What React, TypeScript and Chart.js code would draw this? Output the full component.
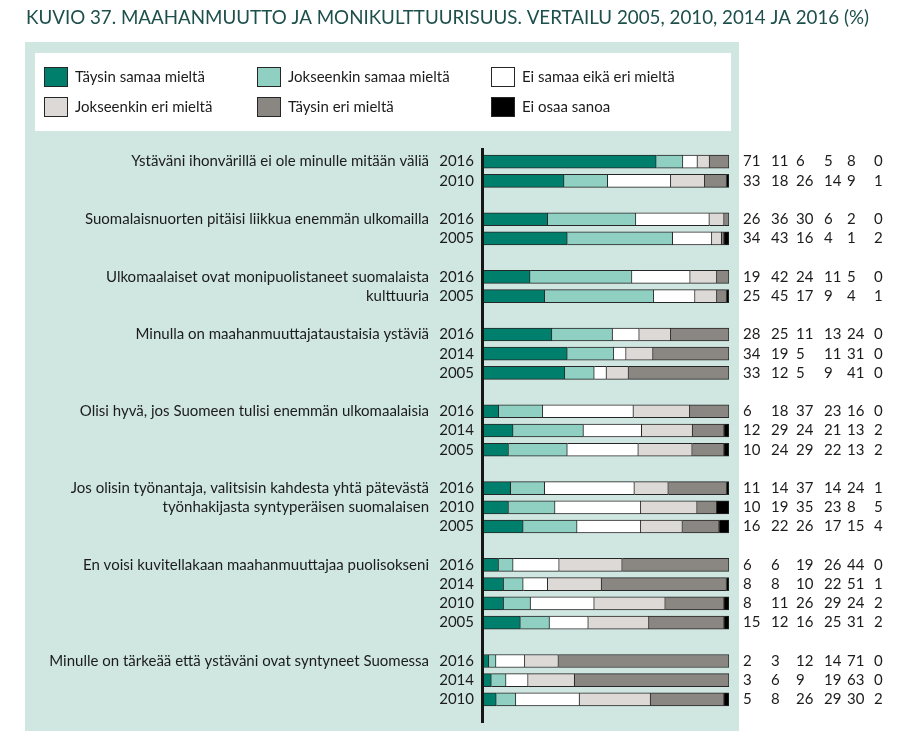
import React, { useEffect, useRef } from "react";
import { Chart, registerables } from "chart.js";

Chart.register(...registerables);

const TITLE = "KUVIO 37. MAAHANMUUTTO JA MONIKULTTUURISUUS. VERTAILU 2005, 2010, 2014 JA 2016 (%)";

const statements: string[][] = [
  ["Ystäväni ihonvärillä ei ole minulle mitään väliä"],
  ["Suomalaisnuorten pitäisi liikkua enemmän ulkomailla"],
  ["Ulkomaalaiset ovat monipuolistaneet suomalaista", "kulttuuria"],
  ["Minulla on maahanmuuttajataustaisia ystäviä"],
  ["Olisi hyvä, jos Suomeen tulisi enemmän ulkomaalaisia"],
  ["Jos olisin työnantaja, valitsisin kahdesta yhtä pätevästä", "työnhakijasta syntyperäisen suomalaisen"],
  ["En voisi kuvitellakaan maahanmuuttajaa puolisokseni"],
  ["Minulle on tärkeää että ystäväni ovat syntyneet Suomessa"],
];

const groupYears: string[][] = [
  ["2016", "2010"],
  ["2016", "2005"],
  ["2016", "2005"],
  ["2016", "2014", "2005"],
  ["2016", "2014", "2005"],
  ["2016", "2010", "2005"],
  ["2016", "2014", "2010", "2005"],
  ["2016", "2014", "2010"],
];

const seriesLabels = [
  "Täysin samaa mieltä",
  "Jokseenkin samaa mieltä",
  "Ei samaa eikä eri mieltä",
  "Jokseenkin eri mieltä",
  "Täysin eri mieltä",
  "Ei osaa sanoa",
];

const seriesColors = ["#007f6d", "#8fd0c2", "#ffffff", "#dcd9d6", "#8a8782", "#000000"];

const taysinSamaa = [71, 33, 26, 34, 19, 25, 28, 34, 33, 6, 12, 10, 11, 10, 16, 6, 8, 8, 15, 2, 3, 5];
const jokseenkinSamaa = [11, 18, 36, 43, 42, 45, 25, 19, 12, 18, 29, 24, 14, 19, 22, 6, 8, 11, 12, 3, 6, 8];
const eiSamaaEikaEri = [6, 26, 30, 16, 24, 17, 11, 5, 5, 37, 24, 29, 37, 35, 26, 19, 10, 26, 16, 12, 9, 26];
const jokseenkinEri = [5, 14, 6, 4, 11, 9, 13, 11, 9, 23, 21, 22, 14, 23, 17, 26, 22, 29, 25, 14, 19, 29];
const taysinEri = [8, 9, 2, 1, 5, 4, 24, 31, 41, 16, 13, 13, 24, 8, 15, 44, 51, 24, 31, 71, 63, 30];
const eiOsaa = [0, 1, 0, 2, 0, 1, 0, 0, 0, 0, 2, 2, 1, 5, 4, 0, 1, 2, 2, 0, 0, 2];

const seriesValues = [taysinSamaa, jokseenkinSamaa, eiSamaaEikaEri, jokseenkinEri, taysinEri, eiOsaa];

const FONT = "Lato, 'Noto Sans', sans-serif";
const TEXT = "#1c1c1c";
const PANEL = "#cfe6e1";
const BORDER = "#262626";

export default function App() {
  const ref = useRef<HTMLCanvasElement | null>(null);

  useEffect(() => {
    const canvas = ref.current;
    if (!canvas) return;

    const slotLabels: string[] = [];
    const slotRow: (number | null)[] = [];
    const groupFirstSlot: number[] = [];
    let r = 0;
    groupYears.forEach((ys, g) => {
      if (g > 0) {
        slotLabels.push("");
        slotRow.push(null);
      }
      groupFirstSlot.push(slotLabels.length);
      ys.forEach((y) => {
        slotLabels.push(y);
        slotRow.push(r++);
      });
    });
    const rowTotals = taysinSamaa.map((_, i) => seriesValues.reduce((s, arr) => s + arr[i], 0));

    const datasets = seriesValues.map((vals, k) => ({
      label: seriesLabels[k],
      data: slotRow.map((i) => (i === null ? null : (vals[i] / rowTotals[i]) * 100)),
      backgroundColor: seriesColors[k],
      borderColor: BORDER,
      borderWidth: 1,
      borderSkipped: "start" as const,
      barThickness: 13,
    }));

    const decor = {
      id: "decor",
      beforeDraw(chart: any) {
        const ctx = chart.ctx as CanvasRenderingContext2D;
        ctx.save();
        ctx.fillStyle = "#ffffff";
        ctx.fillRect(0, 0, chart.width, chart.height);
        // title
        ctx.fillStyle = "#1d4f4b";
        ctx.font = `19px ${FONT}`;
        ctx.textBaseline = "alphabetic";
        ctx.textAlign = "left";
        const w = ctx.measureText(TITLE).width;
        const target = 843;
        ctx.save();
        ctx.translate(26, 24);
        ctx.scale(target / w, 1);
        ctx.fillText(TITLE, 0, 0);
        ctx.restore();
        // panel
        ctx.fillStyle = PANEL;
        ctx.fillRect(25, 42, 714, 689);
        // legend box
        ctx.fillStyle = "#ffffff";
        ctx.fillRect(35, 53, 696, 78);
        const cols = [44, 257, 491];
        const rows = [67, 97];
        ctx.font = `15px ${FONT}`;
        ctx.textBaseline = "middle";
        chart.data.datasets.forEach((ds: any, k: number) => {
          const x = cols[k % 3];
          const y = rows[Math.floor(k / 3)];
          ctx.fillStyle = ds.backgroundColor;
          ctx.fillRect(x, y, 24, 20);
          ctx.strokeStyle = BORDER;
          ctx.lineWidth = 1;
          ctx.strokeRect(x + 0.5, y + 0.5, 23, 19);
          ctx.fillStyle = TEXT;
          ctx.fillText(ds.label, x + 31, y + 10);
        });
        ctx.restore();
      },
      beforeDatasetsDraw(chart: any) {
        const ctx = chart.ctx as CanvasRenderingContext2D;
        const a = chart.chartArea;
        ctx.save();
        ctx.fillStyle = "#161616";
        ctx.fillRect(a.left - 3, a.top - 4, 3, a.bottom - a.top + 18);
        ctx.restore();
      },
      afterDraw(chart: any) {
        const ctx = chart.ctx as CanvasRenderingContext2D;
        const yScale = chart.scales.y;
        ctx.save();
        ctx.font = `15px ${FONT}`;
        ctx.fillStyle = TEXT;
        ctx.textBaseline = "middle";
        ctx.textAlign = "right";
        statements.forEach((lines, g) => {
          lines.forEach((line, j) => {
            const y = yScale.getPixelForValue(groupFirstSlot[g] + j);
            ctx.fillText(line, 429, y);
          });
        });
        ctx.textAlign = "left";
        const colX = [743, 771, 796, 824, 847, 874];
        slotRow.forEach((row, s) => {
          if (row === null) return;
          const y = yScale.getPixelForValue(s);
          seriesValues.forEach((vals, k) => {
            ctx.fillText(String(vals[row]), colX[k], y);
          });
        });
        ctx.restore();
      },
    };

    const chart = new Chart(canvas, {
      type: "bar",
      data: { labels: slotLabels, datasets },
      options: {
        indexAxis: "y",
        responsive: false,
        animation: false,
        layout: { padding: { left: 0, right: 182, top: 152, bottom: 43 } },
        plugins: {
          legend: { display: false },
          tooltip: { enabled: false },
          title: { display: false },
        },
        scales: {
          x: { stacked: true, min: 0, max: 100, display: false },
          y: {
            stacked: true,
            grid: { display: false, drawTicks: false },
            border: { display: false },
            ticks: {
              autoSkip: false,
              padding: 10,
              color: TEXT,
              font: { family: FONT, size: 15 },
            },
            afterFit: (scale: any) => {
              scale.width = 484;
            },
          },
        },
      },
      plugins: [decor],
    });

    return () => chart.destroy();
  }, []);

  return (
    <canvas
      ref={ref}
      width={911}
      height={752}
      style={{ position: "fixed", left: 0, top: 0, display: "block", width: 911, height: 752 }}
    />
  );
}
